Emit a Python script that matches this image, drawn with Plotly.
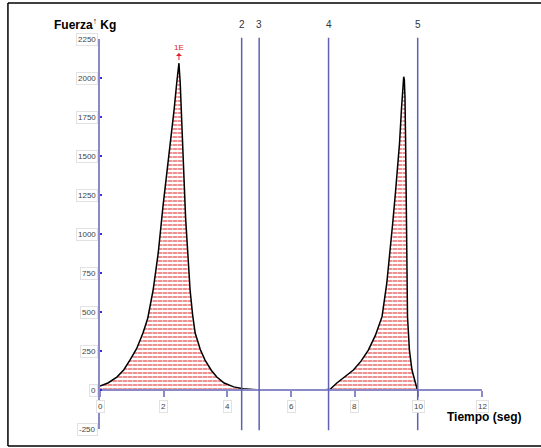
import plotly.graph_objects as go

# Force-time recording (Tiempo in seg, Fuerza in Kg)
tiempo = [0, 0.25, 0.53, 0.75, 0.94, 1.15, 1.35, 1.5, 1.67, 1.83, 1.98, 2.1, 2.23, 2.33, 2.41, 2.48,
          2.52, 2.58, 2.64, 2.69, 2.76, 2.83, 2.91, 2.99, 3.15, 3.30, 3.5, 3.67, 3.9, 4.2, 4.5, 4.8, 5.0,
          7.0, 7.23, 7.44, 7.7, 7.96, 8.2, 8.43, 8.65, 8.86, 9.01, 9.12, 9.2, 9.28, 9.35, 9.41, 9.47,
          9.52, 9.54, 9.56, 9.58, 9.60, 9.62, 9.64, 9.66, 9.72, 9.80, 9.91, 9.97]
fuerza = [25, 45, 83, 130, 192, 265, 365, 460, 641, 880, 1180, 1380, 1603, 1800, 1968, 2095,
          1968, 1603, 1350, 1100, 860, 641, 480, 365, 260, 192, 125, 83, 45, 20, 8, 2, 0,
          0, 5, 45, 85, 128, 185, 256, 350, 470, 686, 897, 1080, 1263, 1420, 1583, 1800,
          1950, 2008, 1990, 1880, 1600, 1000, 686, 470, 256, 128, 45, 0]

marcas_t = [4.45, 5.0, 7.18, 9.98]
marcas_lbl = ["2", "3", "4", "5"]

pico_t = 2.48
pico_f = 2095
pico_lbl = "1E"

x_ticks = [0, 2, 4, 6, 8, 10, 12]
y_ticks = [-250, 0, 250, 500, 750, 1000, 1250, 1500, 1750, 2000, 2250]

axis_col = "#8a8ac8"
mark_col = "#6060b4"
font_fam = "Liberation Sans"

fig = go.Figure()
# red hatching
fig.add_trace(go.Scatter(
    x=tiempo, y=fuerza, mode="none",
    fill="tozeroy", fillcolor="rgba(255,255,255,0)",
    fillpattern=dict(shape="-", fgcolor="#e02020", bgcolor="white", size=4, solidity=0.5),
    hoverinfo="skip", showlegend=False,
))
# white vertical cuts to turn lines into dashes
fig.add_trace(go.Scatter(
    x=tiempo, y=fuerza, mode="none",
    fill="tozeroy", fillcolor="rgba(255,255,255,0)",
    fillpattern=dict(shape="|", fgcolor="white", bgcolor="rgba(0,0,0,0)", size=5, solidity=0.25),
    hoverinfo="skip", showlegend=False,
))
# black curve
fig.add_trace(go.Scatter(
    x=tiempo, y=fuerza, mode="lines",
    line=dict(color="black", width=1.5),
    hoverinfo="skip", showlegend=False,
))

shapes = []
annotations = []
for t, lbl in zip(marcas_t, marcas_lbl):
    shapes.append(dict(type="line", xref="x", yref="paper", x0=t, x1=t, y0=-0.003, y1=1.003,
                       line=dict(color=mark_col, width=1.5)))
    annotations.append(dict(x=t, y=1.038, xref="x", yref="paper", text=lbl, showarrow=False,
                            font=dict(family=font_fam, size=10, color="#333"),
                            xanchor="center", yanchor="middle"))

# boxed tick labels
box = dict(bordercolor="#e2e2e2", borderwidth=1, borderpad=1, bgcolor="white")
for v in y_ticks:
    annotations.append(dict(x=-0.006, y=v, xref="paper", yref="y", text=str(v), showarrow=False,
                            xanchor="right", yanchor="middle",
                            font=dict(family=font_fam, size=8, color="#444"), **box))
for v in x_ticks:
    annotations.append(dict(x=v, y=0.057, xref="x", yref="paper", text=str(v), showarrow=False,
                            xanchor="center", yanchor="middle",
                            font=dict(family=font_fam, size=8, color="#444"), **box))

# outer frame (top, left, bottom)
frame = dict(color="black", width=1.5)
shapes.append(dict(type="line", xref="paper", yref="paper", x0=-0.241, x1=1.2, y0=1.092, y1=1.092, line=frame))
shapes.append(dict(type="line", xref="paper", yref="paper", x0=-0.241, x1=-0.241, y0=-0.0436, y1=1.092, line=frame))
shapes.append(dict(type="line", xref="paper", yref="paper", x0=-0.241, x1=1.2, y0=-0.0436, y1=-0.0436, line=frame))

annotations.append(dict(x=pico_t, y=pico_f + 20, xref="x", yref="y", text=pico_lbl,
                        showarrow=True, arrowhead=2, arrowsize=0.8, arrowwidth=1, arrowcolor="#e02020",
                        arrowside="start", ax=0, ay=-13,
                        font=dict(family=font_fam, size=8, color="#e02020")))
annotations.append(dict(x=-0.126, y=1.038, xref="paper", yref="paper", text="Fuerza<sup>↑</sup> Kg",
                        showarrow=False, xanchor="left", yanchor="middle",
                        font=dict(family=font_fam, size=12, color="black", weight="bold")))
annotations.append(dict(x=0.903, y=0.031, xref="paper", yref="paper", text="Tiempo (seg)",
                        showarrow=False, xanchor="left", yanchor="middle",
                        font=dict(family=font_fam, size=12, color="black", weight="bold")))

fig.update_layout(
    width=541, height=448,
    margin=dict(l=100, r=59, t=39, b=19),
    paper_bgcolor="white", plot_bgcolor="white",
    shapes=shapes, annotations=annotations,
    xaxis=dict(range=[0, 12], tickvals=x_ticks, showgrid=False, zeroline=False,
               showline=True, linecolor=axis_col, linewidth=2, anchor="free", position=0.1,
               ticks="outside", ticklen=6, tickcolor=axis_col, tickwidth=1.5,
               showticklabels=False),
    yaxis=dict(range=[-250, 2250], tickvals=y_ticks, showgrid=False, zeroline=False,
               showline=True, linecolor=axis_col, linewidth=2,
               ticks="inside", ticklen=2, tickcolor="#3030e0", tickwidth=1.5,
               showticklabels=False),
)

fig.write_html("out.html")
